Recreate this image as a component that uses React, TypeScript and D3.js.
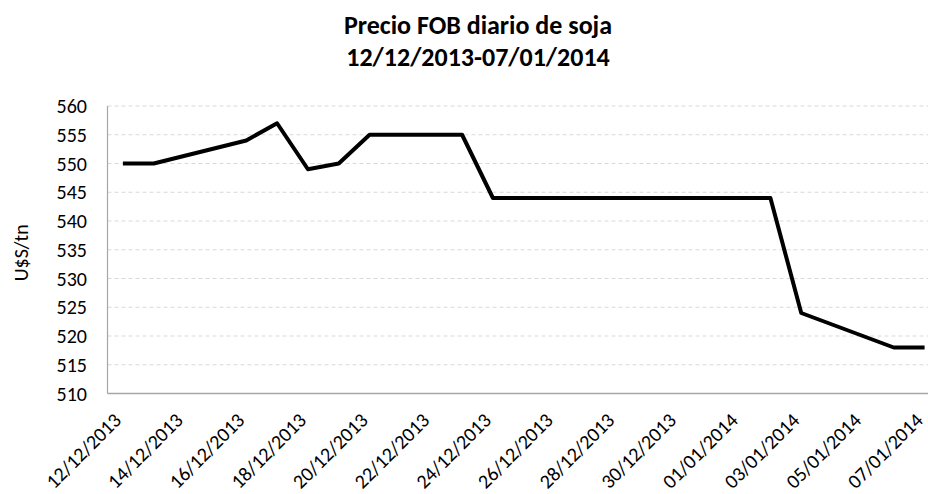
import React from "react";
import * as d3 from "d3";

const W = 928;
const H = 494;

const titleLines = ["Precio FOB diario de soja", "12/12/2013-07/01/2014"];
const yAxisTitle = "U$S/tn";

// daily dates (dd/mm/yyyy) and FOB prices
const dates = [
  "12/12/2013", "13/12/2013", "16/12/2013", "17/12/2013", "18/12/2013",
  "19/12/2013", "20/12/2013", "23/12/2013", "24/12/2013", "26/12/2013",
  "27/12/2013", "30/12/2013", "31/12/2013", "02/01/2014", "03/01/2014",
  "06/01/2014", "07/01/2014",
];
const prices = [
  550, 550, 554, 557, 549,
  550, 555, 555, 544, 544,
  544, 544, 544, 544, 524,
  518, 518,
];

const xTickLabels = [
  "12/12/2013", "14/12/2013", "16/12/2013", "18/12/2013", "20/12/2013",
  "22/12/2013", "24/12/2013", "26/12/2013", "28/12/2013", "30/12/2013",
  "01/01/2014", "03/01/2014", "05/01/2014", "07/01/2014",
];
const yTicks = [510, 515, 520, 525, 530, 535, 540, 545, 550, 555, 560];

const parse = (s: string) => {
  const [d, m, y] = s.split("/").map(Number);
  return new Date(Date.UTC(y, m - 1, d));
};
const halfDay = 12 * 3600 * 1000;

const FONT = "Carlito, Calibri, 'Open Sans', sans-serif";

export default function App() {
  const left = 107.5;
  const top = 106;
  const bottom = 393.5;
  const firstDate = parse(dates[0]);
  const lastDate = parse(dates[dates.length - 1]);

  const x = d3
    .scaleUtc()
    .domain([new Date(+firstDate - halfDay), new Date(+lastDate + halfDay)])
    .range([left, 940]);
  const y = d3.scaleLinear().domain([510, 560]).range([bottom, top]);

  const points = dates.map((d, i) => ({ date: parse(d), v: prices[i] }));
  const line = d3
    .line<{ date: Date; v: number }>()
    .x((d) => x(d.date))
    .y((d) => y(d.v));

  return (
    <svg
      width={W}
      height={H}
      style={{ position: "absolute", left: 0, top: 0, background: "#fff" }}
      fontFamily={FONT}
    >
      <rect x={0} y={0} width={W} height={H} fill="#fff" />
      {titleLines.map((t, i) => (
        <text
          key={t}
          x={478}
          y={34 + i * 32}
          textAnchor="middle"
          fontWeight="bold"
          fontSize={26}
          fill="#000"
        >
          {t}
        </text>
      ))}

      {/* gridlines */}
      {yTicks
        .filter((t) => t !== 510)
        .map((t) => (
          <line
            key={t}
            x1={left}
            x2={W}
            y1={y(t)}
            y2={y(t)}
            stroke="#d9d9d9"
            strokeWidth={1}
            strokeDasharray="4,3"
          />
        ))}

      {/* axes */}
      <line x1={left} x2={left} y1={top} y2={bottom} stroke="#a6a6a6" strokeWidth={1.2} />
      <line x1={left} x2={W} y1={bottom} y2={bottom} stroke="#a6a6a6" strokeWidth={1.5} />

      {/* y tick labels */}
      {yTicks.map((t) => (
        <text
          key={t}
          x={87}
          y={y(t)}
          textAnchor="end"
          dominantBaseline="central"
          fontSize={20}
          fill="#000"
        >
          {t}
        </text>
      ))}

      <text
        transform={`translate(21,${(top + bottom) / 2 + 3}) rotate(-90)`}
        textAnchor="middle"
        dominantBaseline="central"
        fontSize={20}
        fill="#000"
      >
        {yAxisTitle}
      </text>

      {/* x tick labels */}
      {xTickLabels.map((s) => {
        const px = x(parse(s));
        return (
          <text
            key={s}
            transform={`translate(${px - 0.5},${bottom + 28}) rotate(-45)`}
            textAnchor="end"
            fontSize={20}
            fill="#000"
          >
            {s}
          </text>
        );
      })}

      <path
        d={line(points) || ""}
        fill="none"
        stroke="#000"
        strokeWidth={4}
        strokeLinejoin="round"
        strokeLinecap="butt"
      />
    </svg>
  );
}
